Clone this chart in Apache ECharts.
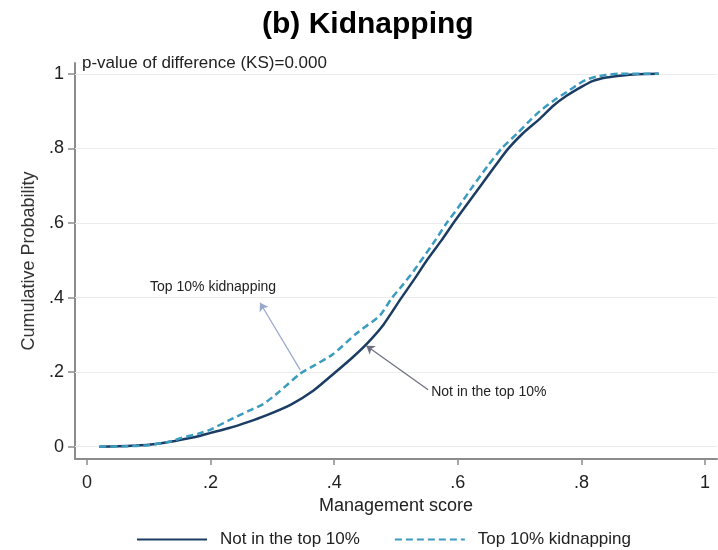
<!DOCTYPE html>
<html>
<head>
<meta charset="utf-8">
<title>(b) Kidnapping</title>
<script src="https://cdn.jsdelivr.net/npm/echarts@6/dist/echarts.min.js"></script>
<style>
  html, body { margin: 0; padding: 0; background: #fff; }
  #chart { width: 718px; height: 550px; }
</style>
</head>
<body>
<div id="chart"></div>
<script>
// cumulative distribution
const notTopX = [0.02, 0.05, 0.08, 0.10, 0.12, 0.15, 0.18, 0.20, 0.23, 0.26, 0.29, 0.33, 0.366, 0.40, 0.43, 0.455, 0.48, 0.507, 0.53, 0.55, 0.573, 0.593, 0.615, 0.637, 0.66, 0.682, 0.705, 0.733, 0.755, 0.776, 0.80, 0.819, 0.84, 0.862, 0.89, 0.925];
const notTopY = [0, 0.001, 0.003, 0.005, 0.009, 0.018, 0.028, 0.037, 0.050, 0.066, 0.084, 0.113, 0.150, 0.197, 0.240, 0.280, 0.328, 0.395, 0.450, 0.500, 0.552, 0.600, 0.650, 0.700, 0.752, 0.800, 0.840, 0.880, 0.915, 0.941, 0.965, 0.981, 0.990, 0.995, 0.999, 1.0];

const topX = [0.02, 0.06, 0.10, 0.13, 0.15, 0.18, 0.20, 0.231, 0.26, 0.285, 0.31, 0.345, 0.37, 0.398, 0.437, 0.474, 0.493, 0.51, 0.528, 0.56, 0.582, 0.60, 0.625, 0.648, 0.671, 0.696, 0.715, 0.733, 0.755, 0.777, 0.795, 0.809, 0.825, 0.84, 0.86, 0.925];
const topY = [0, 0.001, 0.004, 0.012, 0.022, 0.035, 0.046, 0.072, 0.095, 0.114, 0.146, 0.196, 0.220, 0.248, 0.305, 0.352, 0.398, 0.432, 0.470, 0.545, 0.600, 0.640, 0.700, 0.752, 0.800, 0.840, 0.872, 0.900, 0.928, 0.952, 0.972, 0.985, 0.993, 0.997, 1.0, 1.0];

const xTicks = [0, 0.2, 0.4, 0.6, 0.8, 1];
const xTickLabels = ['0', '.2', '.4', '.6', '.8', '1'];
const yTicks = [0, 0.2, 0.4, 0.6, 0.8, 1];
const yTickLabels = ['0', '.2', '.4', '.6', '.8', '1'];

const seriesNames = ['Not in the top 10%', 'Top 10% kidnapping'];

const FONT = '"Liberation Sans", Arial, sans-serif';

function pairs(xs, ys) {
  return xs.map((x, i) => [x, ys[i]]);
}

let chart = echarts.init(document.getElementById('chart'), null, { renderer: 'canvas' });

let option = {
  backgroundColor: '#fff',
  animation: false,
  textStyle: { fontFamily: FONT },
  title: {
    text: '(b) Kidnapping',
    left: 262,
    top: 10,
    padding: 0,
    textStyle: { fontSize: 30, fontWeight: 'bold', color: '#000', fontFamily: FONT }
  },
  graphic: [{
    type: 'text',
    left: 82,
    top: 55,
    style: { text: 'p-value of difference (KS)=0.000', fontSize: 17, fill: '#222', fontFamily: FONT }
  }],
  legend: {
    left: 131,
    top: 526,
    itemWidth: 70,
    itemHeight: 14,
    itemGap: 34,
    itemStyle: { opacity: 0 },
    textStyle: { fontSize: 17, color: '#222', padding: [0, 0, 0, 8], fontFamily: FONT },
    data: seriesNames
  },
  grid: {
    left: 75,
    right: 1,
    top: 63,
    bottom: 91
  },
  xAxis: {
    type: 'value',
    min: -0.0194,
    max: 1.0194,
    name: 'Management score',
    nameLocation: 'middle',
    nameGap: 28,
    nameTextStyle: { fontSize: 18, color: '#222' },
    axisLine: { show: true, onZero: false, lineStyle: { color: '#8c8c8c', width: 2 } },
    axisTick: { show: true, length: 6, customValues: xTicks, lineStyle: { color: '#8c8c8c', width: 1.5 } },
    axisLabel: {
      customValues: xTicks,
      margin: 15,
      fontSize: 18,
      color: '#222',
      formatter: function (v) { return xTickLabels[xTicks.indexOf(v)]; }
    },
    splitLine: { show: false }
  },
  yAxis: {
    type: 'value',
    min: -0.033,
    max: 1.029,
    name: 'Cumulative Probability',
    nameLocation: 'middle',
    nameGap: 37,
    nameTextStyle: { fontSize: 18, color: '#333' },
    axisLine: { show: true, onZero: false, lineStyle: { color: '#8c8c8c', width: 2 } },
    axisTick: { show: true, length: 7, customValues: yTicks, lineStyle: { color: '#8c8c8c', width: 1.5 } },
    axisLabel: {
      customValues: yTicks,
      margin: 11,
      fontSize: 18,
      color: '#222',
      formatter: function (v) { return yTickLabels[yTicks.indexOf(v)]; }
    },
    splitLine: { show: false }
  },
  series: [
    {
      name: seriesNames[0],
      type: 'line',
      symbol: 'none',
      smooth: 0.25,
      data: pairs(notTopX, notTopY),
      lineStyle: { color: '#1c3d63', width: 2.5 },
      itemStyle: { color: '#1c3d63' },
      z: 3,
      markLine: {
        silent: true,
        symbol: 'none',
        label: { show: false },
        lineStyle: { color: '#ececec', width: 1, type: 'solid' },
        z: 1,
        data: yTicks.map(v => ({ yAxis: v }))
      }
    },
    {
      name: seriesNames[1],
      type: 'line',
      symbol: 'none',
      smooth: 0.2,
      data: pairs(topX, topY),
      lineStyle: { color: '#3b9cc0', width: 2.5, type: [7, 4] },
      itemStyle: { color: '#3b9cc0' },
      z: 4,
      markLine: {
        silent: true,
        symbol: ['none', 'arrow'],
        symbolSize: 8,
        label: { show: false },
        data: [
          [{ coord: [0.345, 0.206], lineStyle: { color: '#98a6cc', width: 1.2, type: 'solid' } },
           { coord: [0.280, 0.386] }],
          [{ coord: [0.552, 0.153], lineStyle: { color: '#6c6f80', width: 1.2, type: 'solid' } },
           { coord: [0.452, 0.271] }]
        ]
      },
      markPoint: {
        silent: true,
        symbol: 'circle',
        symbolSize: 0,
        data: [
          {
            name: 'Top 10% kidnapping',
            coord: [0.204, 0.429],
            label: { show: true, position: 'inside', formatter: '{b}', fontSize: 14, color: '#222', fontFamily: FONT }
          },
          {
            name: 'Not in the top 10%',
            coord: [0.557, 0.145],
            label: { show: true, position: 'right', distance: 0, formatter: '{b}', fontSize: 14, color: '#222', fontFamily: FONT }
          }
        ]
      }
    }
  ]
};

chart.setOption(option);
</script>
</body>
</html>
